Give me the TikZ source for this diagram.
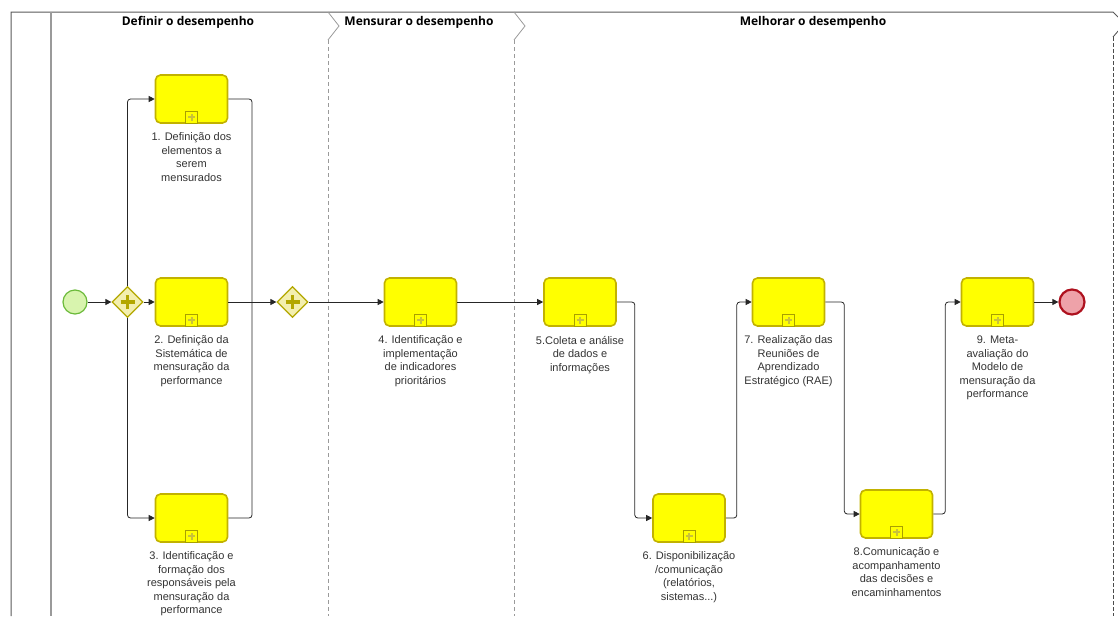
\documentclass[tikz,border=0pt]{standalone}
\usepackage{fontspec}
\setmainfont{Liberation Sans}
\newfontfamily\headfont{Open Sans}
\usetikzlibrary{shapes.geometric,arrows.meta,positioning}

\definecolor{taskfill}{HTML}{FFFF00}
\definecolor{taskdraw}{HTML}{C2B200}
\definecolor{markdraw}{HTML}{A8A000}
\definecolor{markplus}{HTML}{C9C23A}
\definecolor{gwfill}{HTML}{F3EFAE}
\definecolor{gwdraw}{HTML}{B3A700}
\definecolor{startfill}{HTML}{D8F4AE}
\definecolor{startdraw}{HTML}{6BBA3A}
\definecolor{endfill}{HTML}{EEA2A9}
\definecolor{enddraw}{HTML}{AE111E}
\definecolor{lanegray}{HTML}{9A9A9A}
\definecolor{txtgray}{HTML}{333333}

\begin{document}
\begin{tikzpicture}[x=1pt,y=-1pt,
        task/.style={draw=taskdraw,fill=taskfill,line width=1.6pt,rounded corners=5pt,minimum width=72pt,minimum height=48pt,inner sep=0pt},
        marker/.style={draw=markdraw,fill=taskfill,line width=0.8pt,minimum size=12pt,inner sep=0pt,anchor=south,
          path picture={\draw[markplus,line width=2pt]
            ([xshift=-3.5pt]path picture bounding box.center) -- ([xshift=3.5pt]path picture bounding box.center)
            ([yshift=-3.5pt]path picture bounding box.center) -- ([yshift=3.5pt]path picture bounding box.center);}},
        gateway/.style={diamond,draw=gwdraw,fill=gwfill,line width=1.2pt,minimum size=31pt,inner sep=0pt,
          path picture={\draw[gwdraw,line width=3.5pt]
            ([xshift=-7pt]path picture bounding box.center) -- ([xshift=7pt]path picture bounding box.center)
            ([yshift=-7pt]path picture bounding box.center) -- ([yshift=7pt]path picture bounding box.center);}},
        startev/.style={circle,draw=startdraw,fill=startfill,line width=1.2pt,minimum size=24pt,inner sep=0pt},
        endev/.style={circle,draw=enddraw,fill=endfill,line width=2.2pt,minimum size=25pt,inner sep=0pt},
        desc/.style={below=9pt of #1,align=center,font=\fontsize{11}{13.5}\selectfont,text=txtgray,inner sep=0pt},
        head/.style={font=\headfont\bfseries\fontsize{12}{14}\selectfont},
        link/.style={draw=black!85,line width=0.8pt,rounded corners=3pt},
        flow/.style={link,-{Triangle[length=6pt,width=6pt]}}
      ]

  \useasboundingbox (0,0) rectangle (1118,616);

  % pool and phases
  \draw[black!65,line width=1pt] (11,616) -- (11,12) -- (1113,12) -- (1118,17);
  \draw[lanegray,line width=1.5pt] (51,12) -- (51,616);
  \foreach \x in {328,514} {
    \draw[lanegray,line width=0.8pt] (\x,12) -- (\x+11,26) -- (\x,40);
    \draw[lanegray,line width=0.8pt,dash pattern=on 4pt off 3pt] (\x,40) -- (\x,616);
  }
  \draw[black!70,line width=0.8pt] (1119,30) -- (1113,37);
  \draw[black!70,line width=0.8pt,dash pattern=on 4pt off 2pt] (1113,37) -- (1113,616);

  \node (h1) [head] at (188,22) {Definir o desempenho};
  \node (h2) [head] at (419,22) {Mensurar o desempenho};
  \node (h3) [head] at (813,22) {Melhorar o desempenho};

  % events and gateways
  \node (start) [startev] at (75,302) {};
  \node (g1) [gateway] at (127.5,302) {};
  \node (g2) [gateway] at (292.5,302) {};
  \node (finish) [endev] at (1072,302) {};

  % tasks
  \node (t1) [task] at (191.5,99) {};
  \node (t2) [task] at (191.5,302) {};
  \node (t3) [task] at (191.5,518) {};
  \node (t4) [task] at (420.5,302) {};
  \node (t5) [task] at (580,302) {};
  \node (t6) [task] at (689,518) {};
  \node (t7) [task] at (788.5,302) {};
  \node (t8) [task] at (896.5,514) {};
  \node (t9) [task] at (997.5,302) {};
  \foreach \t in {t1,t2,t3,t4,t5,t6,t7,t8,t9}
    \node (\t m) [marker] at (\t.south) {};

  \node (l1) [desc=t1] {1. Definição dos\\elementos a\\serem\\mensurados};
  \node (l2) [desc=t2] {2. Definição da\\Sistemática de\\mensuração da\\performance};
  \node (l3) [desc=t3] {3. Identificação e\\formação dos\\responsáveis pela\\mensuração da\\performance};
  \node (l4) [desc=t4] {4. Identificação e\\implementação\\de indicadores\\prioritários};
  \node (l5) [desc=t5] {5.Coleta e análise\\de dados e\\informações};
  \node (l6) [desc=t6] {6. Disponibilização\\/comunicação\\(relatórios,\\sistemas...)};
  \node (l7) [desc=t7] {7. Realização das\\Reuniões de\\Aprendizado\\Estratégico (RAE)};
  \node (l8) [desc=t8] {8.Comunicação e\\acompanhamento\\das decisões e\\encaminhamentos};
  \node (l9) [desc=t9] {9. Meta-\\avaliação do\\Modelo de\\mensuração da\\performance};

  % sequence flows
  \coordinate (join) at (252,302);
  \draw[flow] (start) -- (g1);
  \draw[flow] (g1) -- (t2);
  \draw[flow] (g1) |- (t1);
  \draw[flow] (g1) |- (t3);
  \draw[link] (t1) -| (join);
  \draw[link] (t3) -| (join);
  \draw[flow] (t2) -- (g2);
  \draw[flow] (g2) -- (t4);
  \draw[flow] (t4) -- (t5);
  \draw[flow] (t5.east) -- ++(18,0) |- (t6);
  \draw[flow] (t6.east) -- ++(11,0) |- (t7);
  \draw[flow] (t7.east) -- ++(19,0) |- (t8);
  \draw[flow] (t8.east) -- ++(12,0) |- (t9);
  \draw[flow] (t9) -- (finish);

\end{tikzpicture}
\end{document}
